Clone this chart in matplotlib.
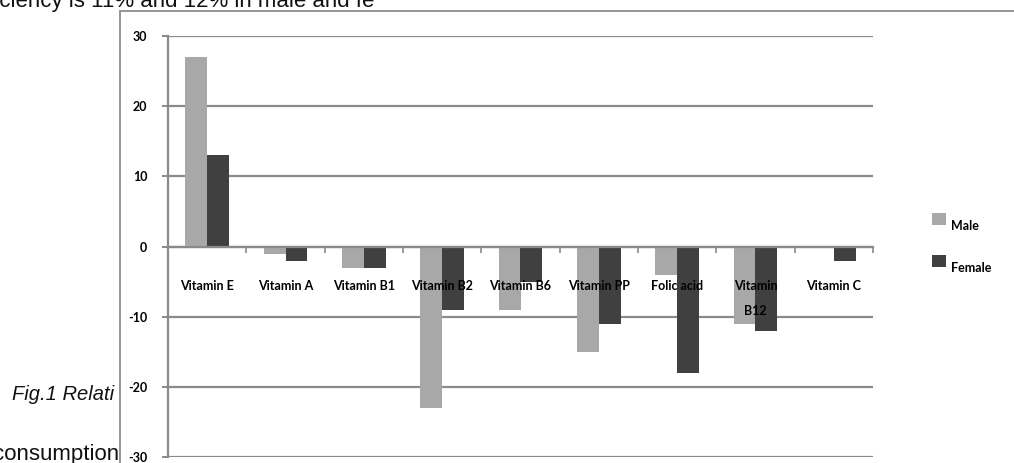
import matplotlib
matplotlib.use("Agg")
import matplotlib.pyplot as plt
from matplotlib.patches import Rectangle
import numpy as np

# ---- data ----
categories = ["Vitamin E", "Vitamin A", "Vitamin B1", "Vitamin B2", "Vitamin B6",
              "Vitamin PP", "Folic acid", "Vitamin\nB12", "Vitamin C"]
male = [27, -1, -3, -23, -9, -15, -4, -11, 0]
female = [13, -2, -3, -9, -5, -11, -18, -12, -2]
series_names = ["Male", "Female"]
series_colors = ["#a8a8a8", "#404040"]
y_ticks = [-30, -20, -10, 0, 10, 20, 30]

W, H = 1014, 463
fig = plt.figure(figsize=(W / 100, H / 100), dpi=100)
fig.patch.set_facecolor("white")

def fx(px):
    return px / W

def fy(py):
    return 1 - py / H

# surrounding document text (partially hidden by the chart frame)
body_font = ["Liberation Sans", "DejaVu Sans"]
fig.text(fx(-12), fy(7), "ficiency is 11% and 12% in male and fe", fontsize=16,
         family=body_font, va="baseline", ha="left", zorder=0.1, color="#111111")
fig.text(fx(12), fy(400), "Fig.1 Relati", fontsize=14.5, style="italic",
         family=body_font, va="baseline", ha="left", zorder=0.1, color="#111111")
fig.text(fx(-7), fy(460), "consumption", fontsize=16,
         family=body_font, va="baseline", ha="left", zorder=0.1, color="#111111")

# chart frame (white panel that covers the text behind it)
frame = Rectangle((fx(120), -0.3), 2, fy(11) + 0.3, transform=fig.transFigure,
                  facecolor="white", edgecolor="#8c8c8c", linewidth=1.3, zorder=0.5)
fig.add_artist(frame)

# ---- axes ----
ax = fig.add_axes([fx(168), fy(457), fx(873) - fx(168), fy(36) - fy(457)])
ax.set_zorder(1)
ax.patch.set_visible(False)

x = np.arange(len(categories))
bw = 0.28
ax.bar(x - bw / 2, male, width=bw, color=series_colors[0], zorder=3)
ax.bar(x + bw / 2, female, width=bw, color=series_colors[1], zorder=3)

ax.set_xlim(-0.5, len(categories) - 0.5)
ax.set_ylim(-30, 30)

grid_c = "#8a8a8a"
ax.set_yticks(y_ticks)
ax.yaxis.grid(True, color=grid_c, linewidth=1.6, zorder=1)
ax.set_axisbelow(True)

lab_font = ["Lato", "DejaVu Sans"]
ax.set_yticklabels([str(v) for v in y_ticks], fontsize=9, fontweight="bold",
                   family=lab_font)
ax.tick_params(axis="y", length=4, width=1.4, color=grid_c, pad=11)

for s in ["top", "right"]:
    ax.spines[s].set_visible(False)
ax.spines["left"].set_color(grid_c)
ax.spines["left"].set_linewidth(1.6)
ax.spines["bottom"].set_position(("data", 0))
ax.spines["bottom"].set_color(grid_c)
ax.spines["bottom"].set_linewidth(1.6)
ax.spines["bottom"].set_zorder(4)

ax.set_xticks(x)
ax.set_xticklabels(categories, fontsize=9, fontweight="bold", family=lab_font)
ax.set_xticks(np.arange(len(categories) + 1) - 0.5, minor=True)
ax.tick_params(axis="x", which="major", length=0, pad=24)
ax.tick_params(axis="x", which="minor", length=4, width=1.2, color=grid_c)
for t in ax.get_xticklabels():
    t.set_linespacing(2.3)
ax.xaxis.set_zorder(6)

# ---- legend (manual, Excel style) ----
leg_y = [213, 255]
for name, col, ytop in zip(series_names, series_colors, leg_y):
    fig.add_artist(Rectangle((fx(932), fy(ytop + 12)), fx(14), fy(ytop) - fy(ytop + 12),
                             transform=fig.transFigure, facecolor=col,
                             edgecolor="none", zorder=2))
    fig.text(fx(951), fy(ytop + 13), name, fontsize=9, fontweight="bold",
             family=lab_font, va="center", ha="left", zorder=2)

fig.savefig("out.png", dpi=100, facecolor="white")
